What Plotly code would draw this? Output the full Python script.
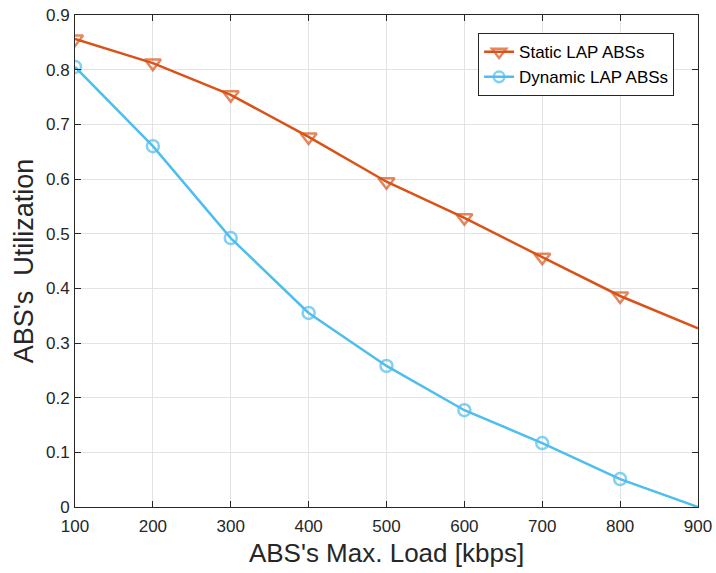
import plotly.graph_objects as go

loads = [100, 200, 300, 400, 500, 600, 700, 800, 900]
static_util = [0.856, 0.812, 0.754, 0.677, 0.595, 0.529, 0.457, 0.386, 0.327]
dynamic_util = [0.805, 0.660, 0.492, 0.355, 0.258, 0.177, 0.117, 0.051, 0.0]
x_ticks = [100, 200, 300, 400, 500, 600, 700, 800, 900]
y_ticks = [0, 0.1, 0.2, 0.3, 0.4, 0.5, 0.6, 0.7, 0.8, 0.9]

FONT = "Liberation Sans, Arial, sans-serif"
AX = "#262626"

fig = go.Figure()
fig.add_trace(go.Scatter(
    x=loads, y=static_util, mode="lines+markers", name="Static LAP ABSs",
    line=dict(color="#D95319", width=2.5),
    marker=dict(symbol="triangle-down-open", size=[14]*8 + [0],
                line=dict(color="#D95319", width=2.5), color="#D95319"),
))
fig.add_trace(go.Scatter(
    x=loads, y=dynamic_util, mode="lines+markers", name="Dynamic LAP ABSs",
    line=dict(color="#4DBEEE", width=2.5),
    marker=dict(symbol="circle-open", size=[12]*8 + [0],
                line=dict(color="#4DBEEE", width=2.5), color="#4DBEEE"),
))

axis_common = dict(
    showline=True, linecolor=AX, linewidth=1, mirror="ticks",
    ticks="inside", ticklen=6, tickcolor=AX, tickwidth=1,
    showgrid=True, gridcolor="#E3E3E3", gridwidth=1, zeroline=False,
    tickfont=dict(family=FONT, size=17, color=AX), automargin=False,
)

fig.update_layout(
    width=716, height=573,
    margin=dict(l=75, r=18, t=15, b=66),
    paper_bgcolor="white", plot_bgcolor="white",
    font=dict(family=FONT, color=AX),
    xaxis=dict(range=[100, 900], tickvals=x_ticks, ticklabelstandoff=4,
               title=dict(text="ABS's Max. Load [kbps]", font=dict(family=FONT, size=26, color=AX), standoff=8),
               **axis_common),
    yaxis=dict(range=[0, 0.9], tickvals=y_ticks, ticktext=[f"{v:g}" for v in y_ticks],
               ticklabelstandoff=1,
               title=dict(text="ABS's  Utilization", font=dict(family=FONT, size=27, color=AX), standoff=4),
               **axis_common),
    legend=dict(x=0.647, y=0.963, xanchor="left", yanchor="top",
                bgcolor="white", bordercolor=AX, borderwidth=1,
                font=dict(family=FONT, size=17, color="black"),
                tracegroupgap=0, itemwidth=30),
    showlegend=True,
)

fig.write_html("out.html")
